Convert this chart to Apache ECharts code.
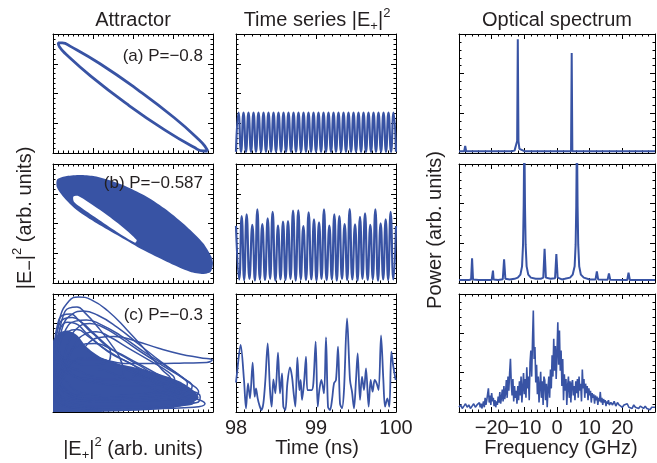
<!DOCTYPE html>
<html>
<head>
<meta charset="utf-8">
<script src="https://cdn.jsdelivr.net/npm/echarts@6/dist/echarts.min.js"></script>
<style>
  html, body { margin: 0; padding: 0; background: #fff; }
  #chart { width: 657px; height: 463px; }
</style>
</head>
<body>
<div id="chart"></div>
<script>
// ---- data (arb. units are 0..100 of each panel) ----

// (a) P=-0.8 : closed limit cycle, |E+|^2 vs |E-|^2
const attractorA = [[96.7,1.7],[95.4,4.8],[91.6,10.75],[75.8,29.6],[53.0,53.1],[29.4,75.0],[11.2,89.4],[5.8,92.5],
  [3.3,92.5],[4.0,89.3],[7.8,83.4],[23.6,64.6],[46.4,41.0],[70.0,19.2],[88.2,4.75],[93.9,1.7],[96.7,1.7]];

// (b) P=-0.587 : filled torus outline and its inner hole
const blobB = [[2.7,87.1],[8.6,89.9],[16.9,90.8],[25.2,89.9],[33.6,87.1],[46.1,80.9],[58.6,72.5],[71.1,61.3],
  [83.6,47.3],[93.9,33.4],[99,22.1],[100,16.6],[98.6,9.5],[93.9,7.6],[85.6,9.5],[71.1,17.9],[56.4,27.7],
  [41.9,38.9],[27.3,50.2],[14.8,61.3],[6.4,72.5],[2.3,80.9]];
const holeB = [[12.7,72.5],[15.8,73.1],[29.4,61.3],[41.9,48.7],[52.3,36.1],[51.3,33.9],[39.8,43.1],
  [27.3,54.4],[16.9,64.1],[13.1,68.3]];

// (c) P=-0.3 : chaotic trajectory, dense core plus visible loops
const coreC = [[0,0],[0,60],[4,67],[9,69],[15,65],[21,55],[29,47],[40,41],[54,37],[67,32],[79,26],[88,18],
  [91,12],[86,7],[72,3],[50,1],[30,0]];
const loopsC = [
  [[1,45],[4,78],[10,94],[16,97.5],[24,95],[34,86],[46,70],[58,52],[68,36],[74,26],[72,19],[60,16],[40,14],[20,14],[6,22],[1,45]],
  [[1,40],[6,72],[12,83],[19,85.5],[28,82],[40,72],[54,57],[68,42],[80,30],[84,24],[79,18],[64,16],[44,14],[24,13],[8,18],[1,40]],
  [[2,45],[8,70],[14,77],[21,78],[30,74],[42,65],[58,50],[74,36],[86,24],[91,17],[86,12],[68,10],[48,9],[28,9],[10,14],[2,45]],
  [[20,55],[28,63],[38,64],[52,60],[66,54],[80,49],[92,46],[99.5,44],[96,42],[82,41.5],[66,41],[50,41],[36,43],[26,48],[20,55]],
  [[5,35],[10,60],[16,72],[23,75],[31,72],[42,63],[56,50],[70,38],[82,28],[87,22],[82,16],[64,14],[40,14],[18,16],[5,35]],
  [[2,20],[8,45],[16,56],[26,58],[38,52],[52,42],[68,30],[82,20],[92,13],[90,8],[76,6],[54,5],[30,5],[10,8],[2,20]],
  [[1,30],[4,58],[9,68],[15,70],[22,64],[34,52],[50,40],[66,30],[78,23],[80,18],[70,14],[50,12],[28,11],[10,14],[1,30]],
  [[2,15],[8,36],[18,44],[30,44],[44,38],[60,29],[76,21],[86,16],[80,12],[60,10],[36,9],[14,10],[2,15]],
  [[3,60],[6,80],[10,88],[15,89],[20,84],[28,72],[36,58],[42,45],[44,34],[38,28],[24,28],[10,34],[3,60]],
  [[1,10],[6,28],[16,36],[28,36],[42,30],[58,22],[72,15],[84,10],[88,8],[78,5],[56,3],[30,3],[10,4],[1,10]],
  [[1,50],[3,70],[7,79],[12,80],[18,76],[26,66],[36,54],[48,44],[58,36],[62,30],[55,26],[40,26],[22,28],[8,34],[1,50]],
  [[2,55],[5,72],[9,76],[14,75],[20,68],[28,58],[38,48],[50,40],[54,34],[46,30],[30,30],[14,36],[4,45],[2,55]],
  [[1,58],[3,75],[6,82],[11,83],[16,78],[22,70],[30,60],[36,50],[34,42],[22,40],[10,44],[3,50],[1,58]],
  [[3,25],[10,40],[20,46],[32,44],[46,36],[62,26],[78,16],[92,10],[95,7],[88,4],[68,3],[44,2],[20,3],[6,8],[3,25]],
  [[8,40],[14,58],[20,66],[27,68],[35,64],[46,55],[60,44],[72,34],[76,28],[70,24],[52,22],[30,24],[14,30],[8,40]]
];

// time series |E+|^2, [time ns, value]
const timeA = [[98.000,1],[98.031,34],[98.063,1],[98.094,34],[98.125,1],[98.156,34],[98.188,1],[98.219,34],
  [98.250,1],[98.281,34],[98.313,1],[98.344,34],[98.375,1],[98.406,34],[98.438,1],[98.469,34],[98.500,1],
  [98.531,34],[98.563,1],[98.594,34],[98.625,1],[98.656,34],[98.688,1],[98.719,34],[98.750,1],[98.781,34],
  [98.813,1],[98.844,34],[98.875,1],[98.906,34],[98.938,1],[98.969,34],[99.000,1],[99.031,34],[99.063,1],
  [99.094,34],[99.125,1],[99.156,34],[99.188,1],[99.219,34],[99.250,1],[99.281,34],[99.313,1],[99.344,34],
  [99.375,1],[99.406,34],[99.438,1],[99.469,34],[99.500,1],[99.531,34],[99.563,1],[99.594,34],[99.625,1],
  [99.656,34],[99.688,1],[99.719,34],[99.750,1],[99.781,34],[99.813,1],[99.844,34],[99.875,1],[99.906,34],
  [99.938,1],[99.969,34],[100.000,1]];
const timeB = [[98.000,48],[98.040,3],[98.071,56.3],[98.102,2.5],[98.133,57.7],[98.168,3.5],[98.204,48.8],
  [98.236,2],[98.267,61.9],[98.298,3],[98.329,49.6],[98.363,2.5],[98.396,54.3],[98.427,3.5],[98.458,59.7],
  [98.492,2],[98.525,48.2],[98.556,3],[98.588,51.6],[98.619,2.5],[98.650,52.1],[98.681,3.5],[98.713,60.8],
  [98.746,2],[98.779,61.1],[98.810,3],[98.842,47.9],[98.875,2.5],[98.908,59.4],[98.942,3],[98.975,53.5],
  [99.006,2],[99.038,51.0],[99.069,3.5],[99.100,61.9],[99.133,2.5],[99.167,48.2],[99.198,3],[99.229,57.7],
  [99.260,2],[99.292,56.3],[99.325,3.5],[99.358,49.6],[99.390,2.5],[99.421,62.2],[99.454,3],[99.488,49.3],
  [99.519,2],[99.550,55.5],[99.581,3.5],[99.613,58.6],[99.646,2.5],[99.679,48.8],[99.710,3],[99.742,61.9],
  [99.775,2],[99.808,50.1],[99.840,3],[99.871,53.5],[99.902,2.5],[99.933,59.7],[99.967,3],[100.000,47.9]];
const timeC = [[98.000,25],[98.008,30.0],[98.058,56.8],[98.100,27.1],[98.125,3.1],[98.150,24.3],[98.175,11.6],
  [98.208,41.8],[98.233,13.0],[98.250,20.1],[98.271,11.6],[98.292,5.9],[98.317,1.7],[98.342,7.3],[98.367,27.1],
  [98.396,58.2],[98.425,18.6],[98.446,4.5],[98.467,27.7],[98.492,15.8],[98.525,50.3],[98.550,15.8],[98.575,32.8],
  [98.592,4.5],[98.617,1.7],[98.642,24.3],[98.675,37.9],[98.700,30.0],[98.721,15.8],[98.742,4.5],[98.767,46.3],
  [98.792,18.6],[98.808,27.1],[98.825,10.2],[98.850,24.3],[98.875,46.9],[98.892,18.6],[98.917,18.6],[98.946,18.6],
  [98.967,24.3],[98.996,59.6],[99.021,4.5],[99.042,18.6],[99.067,27.1],[99.100,15.8],[99.125,63.3],[99.150,4.5],
  [99.175,1.7],[99.200,10.2],[99.225,24.3],[99.250,27.1],[99.275,55.4],[99.300,7.3],[99.325,3.1],[99.350,18.6],
  [99.388,79.4],[99.425,27.1],[99.450,17.2],[99.475,3.1],[99.500,27.1],[99.521,49.7],[99.550,10.2],[99.575,30.0],
  [99.600,18.6],[99.625,37.0],[99.658,4.5],[99.683,27.1],[99.708,17.2],[99.733,27.1],[99.758,24.3],[99.783,18.6],
  [99.813,65.0],[99.842,27.1],[99.863,4.5],[99.892,11.6],[99.917,4.5],[99.942,51.1],[99.967,38.4],[99.996,27.1]];

// optical spectra, [frequency GHz, power]
const specA = [[-30,1.5],[-28.4,1.5],[-28.1,6],[-27.8,1.5],[-14,1.5],[-13,2],[-12.5,3.5],[-12.2,10],[-12,95.5],
  [-11.8,10],[-11.5,3.5],[-11,2],[-10,1.5],[4.3,1.5],[4.5,84],[4.7,1.5],[20.6,1.5],[20.8,3],[21,1.5],[30,1.5]];
const specB = [[-30,2.5],[-27,2.5],[-26.3,3],[-26.0,20.7],[-25.7,3],[-24,2.5],[-20,2.5],[-19.8,3],[-19.6,10.4],
  [-19.4,3],[-18,2.5],[-16.6,3.2],[-16.2,19.9],[-15.8,3.5],[-14.5,3],[-13,3.5],[-12,4.5],[-11.2,7],[-10.7,14],
  [-10.4,32],[-10.2,65],[-10,130],[-9.8,65],[-9.6,32],[-9.3,14],[-8.8,7],[-8,4.5],[-6.5,3.5],[-5,3.5],[-4.2,4.5],
  [-3.8,28.8],[-3.4,4.5],[-2,3.5],[-0.6,4],[-0.2,24.4],[0.2,4.5],[1.5,3],[2.4,3.5],[2.7,4.8],[3,3.5],[4,4.5],
  [4.8,7],[5.4,14],[5.7,32],[5.9,65],[6.1,130],[6.3,65],[6.5,32],[6.8,14],[7.3,7],[8.2,4.5],[10,3],[11.8,3],
  [12.2,9.8],[12.6,3],[15.5,2.8],[15.9,8.1],[16.3,2.8],[21.5,2.5],[21.9,8.7],[22.3,2.5],[30,2.5]];
const specC = [[-30,4],[-29.5,6],[-29,3],[-28.5,5],[-28,7],[-27.5,4],[-27,6],[-26.5,3],[-26,5],[-25.5,7],[-25,4],
  [-24.5,6],[-24,5],[-23.75,8],[-23.5,4],[-23.25,7],[-23,3],[-22.75,6],[-22.5,9],[-22.25,4],[-22,12],[-21.75,6],
  [-21.5,10],[-21.25,15],[-21,20],[-20.75,8],[-20.5,14],[-20.25,6],[-20,16],[-19.75,9],[-19.5,12],[-19.25,5],
  [-19,10],[-18.75,4],[-18.5,9],[-18.25,6],[-18,13],[-17.75,8],[-17.5,17],[-17.25,7],[-17,12],[-16.75,19],
  [-16.5,9],[-16.25,22],[-16,11],[-15.75,16],[-15.5,27],[-15.25,12],[-15,30],[-14.75,18],[-14.5,33],[-14.25,45],
  [-14,24],[-13.75,14],[-13.5,28],[-13.25,9],[-13,22],[-12.75,12],[-12.5,18],[-12.25,7],[-12,22],[-11.75,10],
  [-11.5,26],[-11.25,14],[-11,30],[-10.75,8],[-10.5,20],[-10.25,33],[-10,15],[-9.75,28],[-9.5,12],[-9.25,38],
  [-9,20],[-8.75,30],[-8.5,10],[-8.25,42],[-8,52],[-7.75,30],[-7.5,60],[-7.25,86],[-7,45],[-6.75,55],[-6.5,25],
  [-6.25,40],[-6,15],[-5.75,30],[-5.5,8],[-5.25,22],[-5,34],[-4.75,12],[-4.5,26],[-4.25,6],[-4,30],[-3.75,27],
  [-3.5,10],[-3.25,24],[-3,4],[-2.75,20],[-2.5,30],[-2.25,12],[-2,36],[-1.75,20],[-1.5,48],[-1.25,30],[-1,62],
  [-0.75,35],[-0.5,56],[-0.25,28],[0,50],[0.25,76],[0.5,40],[0.75,69],[1,35],[1.25,52],[1.5,22],[1.75,45],
  [2,10],[2.25,32],[2.5,18],[2.75,28],[3,6],[3.25,22],[3.5,30],[3.75,12],[4,26],[4.25,8],[4.5,24],[4.75,27],
  [5,14],[5.25,22],[5.5,10],[5.75,26],[6,16],[6.25,28],[6.5,12],[6.75,30],[7,18],[7.25,24],[7.5,9],[7.75,36],
  [8,20],[8.25,28],[8.5,12],[8.75,24],[9,16],[9.25,22],[9.5,10],[9.75,20],[10,14],[10.25,18],[10.5,8],[10.75,16],
  [11,12],[11.25,15],[11.5,7],[11.75,14],[12,10],[12.25,13],[12.5,6],[12.75,12],[13,9],[13.25,17],[13.5,8],
  [13.75,12],[14,6],[14.25,11],[14.5,8],[14.75,10],[15,5],[15.25,9],[15.5,7],[15.75,10],[16,6],[16.5,8],[17,6],
  [17.5,9],[18,5],[18.5,8],[19,6],[19.5,7],[20,4],[20.5,6],[21,5],[21.5,7],[22,4],[22.5,5],[23,3],[23.5,6],
  [24,4],[24.5,5],[25,3],[25.5,5],[26,4],[26.5,3],[27,5],[27.5,3],[28,4],[28.5,2],[29,4],[29.5,3],[30,4]];

const timeTicks = [98, 99, 100];
const freqTicks = [-20, -10, 0, 10, 20];

// ---- layout ----
const BLUE = '#3853a4';
const TXT = '#231f20';
const FONT = '"Liberation Sans", Arial, sans-serif';
const colLeft = [53, 236, 459];
const colWidth = [160, 160, 196];
const rowTop = [34, 164, 294];
const rowHeight = [119, 119, 118];

// per column: x range / ticks, y ticks
const colAxes = [
  { xmin: 0, xmax: 100, xint: 25, xminor: 8, yint: 25, yminor: 6 },
  { xmin: 98, xmax: 100, xint: 1, xminor: 10, yint: 25, yminor: 6 },
  { xmin: -30, xmax: 30, xint: 10, xminor: 5, yint: 100 / 3, yminor: 5 },
];

const grids = [], xAxes = [], yAxes = [];
const tickStyle = { color: '#000', width: 1 };

for (let r = 0; r < 3; r++) {
  for (let c = 0; c < 3; c++) {
    const g = grids.length;
    const a = colAxes[c];
    grids.push({ left: colLeft[c], top: rowTop[r], width: colWidth[c], height: rowHeight[r] });
    ['bottom', 'top'].forEach(pos => {
      const showLabel = pos === 'bottom' && r === 2 && c > 0;
      xAxes.push({
        gridIndex: g, type: 'value', position: pos, min: a.xmin, max: a.xmax, interval: a.xint,
        axisLine: { show: true, onZero: false, lineStyle: tickStyle },
        axisTick: { show: true, inside: true, length: 5, lineStyle: tickStyle },
        minorTick: { show: true, splitNumber: a.xminor, length: 2.5, lineStyle: tickStyle },
        splitLine: { show: false },
        axisLabel: {
          show: showLabel, margin: 6, color: TXT, fontSize: 20, fontFamily: FONT,
          showMinLabel: c === 1, showMaxLabel: c === 1,
          formatter: v => {
            if (c === 1) return timeTicks.includes(v) ? String(v) : '';
            if (!freqTicks.includes(v)) return '';
            return v < 0 ? '\u2212' + Math.abs(v) : String(v);
          },
        },
      });
    });
    ['left', 'right'].forEach(pos => {
      yAxes.push({
        gridIndex: g, type: 'value', position: pos, min: 0, max: 100, interval: a.yint,
        axisLine: { show: true, onZero: false, lineStyle: tickStyle },
        axisTick: { show: true, inside: true, length: 5, lineStyle: tickStyle },
        minorTick: { show: true, splitNumber: a.yminor, length: 2.5, lineStyle: tickStyle },
        splitLine: { show: false },
        axisLabel: { show: false },
      });
    });
  }
}

const idx = (r, c) => r * 3 + c;
const lineSeries = (r, c, data, width, smooth) => ({
  type: 'line', xAxisIndex: idx(r, c) * 2, yAxisIndex: idx(r, c) * 2, data,
  showSymbol: false, smooth, clip: true, silent: true,
  lineStyle: { color: BLUE, width }, z: 2,
});
const polySeries = (r, c, pts, fill, z) => ({
  type: 'custom', xAxisIndex: idx(r, c) * 2, yAxisIndex: idx(r, c) * 2, data: [[50, 50]],
  clip: true, silent: true, z,
  renderItem: (params, api) => ({
    type: 'polygon',
    shape: { points: pts.map(p => api.coord(p)), smooth: 0.25 },
    style: { fill },
  }),
});

const series = [
  lineSeries(0, 0, attractorA, 2.8, true),
  polySeries(1, 0, blobB, BLUE, 2),
  polySeries(1, 0, holeB, '#fff', 3),
  polySeries(2, 0, coreC, BLUE, 2),
  ...loopsC.map(l => lineSeries(2, 0, l, 1.5, true)),
  lineSeries(0, 1, timeA, 2.2, true),
  lineSeries(1, 1, timeB, 2.2, true),
  lineSeries(2, 1, timeC, 1.8, 0.3),
  lineSeries(0, 2, specA, 2, false),
  lineSeries(1, 2, specB, 2, false),
  lineSeries(2, 2, specC, 1.6, false),
];

// titles and annotations
const rich = {
  sub: { fontSize: 13, fontFamily: FONT, fill: TXT, verticalAlign: 'bottom', lineHeight: 26 },
  subm: { fontSize: 18, fontFamily: FONT, fill: TXT, verticalAlign: 'bottom', lineHeight: 28 },
  sup: { fontSize: 13, fontFamily: FONT, fill: TXT, verticalAlign: 'top', lineHeight: 26 },
};
const txt = (x, y, text, size, extra) => Object.assign({
  type: 'text', x, y, z: 100, silent: true,
  style: { text, rich, font: size + 'px ' + FONT, fill: TXT, align: 'center', verticalAlign: 'middle' },
}, extra || {});

const graphic = [
  txt(133, 20, 'Attractor', 20),
  txt(317, 20, 'Time series |E{sub|+}|{sup|2}', 20),
  txt(557, 20, 'Optical spectrum', 20),
  txt(133, 449, '|E{sub|+}|{sup|2} (arb. units)', 20),
  txt(317, 448, 'Time (ns)', 20),
  txt(561, 448, 'Frequency (GHz)', 20),
  txt(25, 218, '|E{subm|\u2212}|{sup|2} (arb. units)', 20, { rotation: Math.PI / 2 }),
  txt(435, 230, 'Power (arb. units)', 20, { rotation: Math.PI / 2 }),
];
[['(a) P=\u22120.8', 56], ['(b) P=\u22120.587', 183], ['(c) P=\u22120.3', 315]].forEach(([t, y]) => {
  const el = txt(203, y, t, 17);
  el.style.align = 'right';
  graphic.push(el);
});

const chart = echarts.init(document.getElementById('chart'));
chart.setOption({
  animation: false,
  grid: grids,
  xAxis: xAxes,
  yAxis: yAxes,
  series,
  graphic,
});
</script>
</body>
</html>
